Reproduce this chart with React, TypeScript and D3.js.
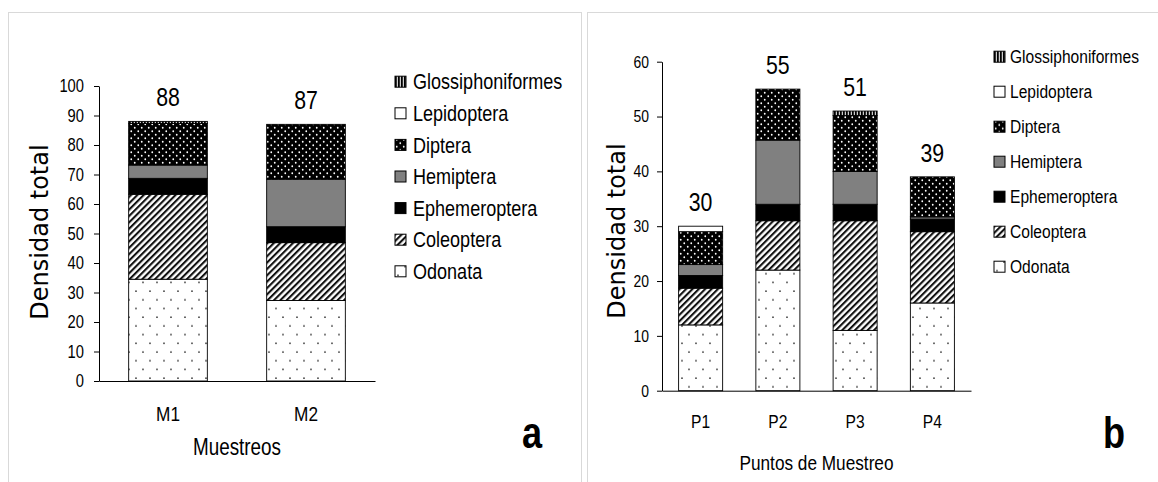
import React, { useEffect, useRef } from 'react';
import * as d3 from 'd3';

// taxa, bottom to top of each stack
const taxa = ['Odonata', 'Coleoptera', 'Ephemeroptera', 'Hemiptera', 'Diptera', 'Lepidoptera', 'Glossiphoniformes'];

// panel a
const muestreos = ['M1', 'M2'];
const odonataA = [34.5, 27.3];
const coleopteraA = [28.8, 19.6];
const ephemeropteraA = [5.4, 5.4];
const hemipteraA = [4.5, 16.1];
const dipteraA = [14.1, 18.6];
const lepidopteraA = [0, 0];
const glossA = [0.7, 0];

// panel b
const puntos = ['P1', 'P2', 'P3', 'P4'];
const odonataB = [12, 22, 11, 16];
const coleopteraB = [6.7, 9, 20, 13];
const ephemeropteraB = [2.3, 3, 3, 2.3];
const hemipteraB = [2, 11.7, 6, 0.4];
const dipteraB = [6, 9.3, 10.2, 7.3];
const lepidopteraB = [1, 0, 0, 0];
const glossB = [0, 0, 0.8, 0];

const yTicksA = d3.range(0, 101, 10);
const yTicksB = d3.range(0, 61, 10);

const narrow = "'Liberation Sans', Arial, sans-serif";
const wide = "'DejaVu Sans', Verdana, sans-serif";
const SQ = 0.82; // horizontal squeeze, the original text is condensed

const fills: Record<string, string> = {
    Odonata: 'url(#pOdo)',
    Coleoptera: 'url(#pCol)',
    Ephemeroptera: '#000',
    Hemiptera: '#808080',
    Diptera: 'url(#pDip)',
    Lepidoptera: '#fff',
    Glossiphoniformes: 'url(#pGlo)'
};

// turn x/y into a transform so the glyphs can be squeezed sideways
function squeeze(sel) {
    sel.each(function () {
        const t = d3.select(this);
        const x = +t.attr('x') || 0;
        const y = +t.attr('y') || 0;
        t.attr('x', null).attr('y', null)
            .attr('transform', 'translate(' + x + ',' + y + ') scale(' + SQ + ',1)');
    });
}

function makePatterns(defs) {
    const odo = defs.append('pattern').attr('id', 'pOdo')
        .attr('patternUnits', 'userSpaceOnUse').attr('width', 14).attr('height', 17.4);
    odo.append('rect').attr('width', 14).attr('height', 17.4).attr('fill', '#fff');
    odo.append('circle').attr('cx', 3).attr('cy', 4).attr('r', 0.85).attr('fill', '#333');
    odo.append('circle').attr('cx', 10).attr('cy', 12.7).attr('r', 0.85).attr('fill', '#333');

    const col = defs.append('pattern').attr('id', 'pCol')
        .attr('patternUnits', 'userSpaceOnUse').attr('width', 4.5).attr('height', 4.5)
        .attr('patternTransform', 'rotate(45)');
    col.append('rect').attr('width', 4.5).attr('height', 4.5).attr('fill', '#fff');
    col.append('rect').attr('width', 2.1).attr('height', 4.5).attr('fill', '#111');

    const dip = defs.append('pattern').attr('id', 'pDip')
        .attr('patternUnits', 'userSpaceOnUse').attr('width', 7).attr('height', 7);
    dip.append('rect').attr('width', 7).attr('height', 7).attr('fill', '#000');
    dip.append('circle').attr('cx', 1.75).attr('cy', 1.75).attr('r', 0.9).attr('fill', '#fff');
    dip.append('circle').attr('cx', 5.25).attr('cy', 5.25).attr('r', 0.9).attr('fill', '#fff');

    const glo = defs.append('pattern').attr('id', 'pGlo')
        .attr('patternUnits', 'userSpaceOnUse').attr('width', 3).attr('height', 3);
    glo.append('rect').attr('width', 3).attr('height', 3).attr('fill', '#000');
    glo.append('rect').attr('x', 1.8).attr('width', 1).attr('height', 3).attr('fill', '#fff');
}

function drawPanel(svg, o) {
    const rows = o.cats.map((c, i) => {
        const r: any = { cat: c };
        taxa.forEach((t, k) => { r[t] = o.series[k][i]; });
        return r;
    });
    const stacked = d3.stack().keys(taxa)(rows);

    const x = d3.scaleBand().domain(o.cats).range([o.x0, o.x1])
        .paddingInner(0.43).paddingOuter(0.215);
    const y = d3.scaleLinear().domain([0, o.yMax]).range([o.yBottom, o.yTop]);

    const g = svg.append('g');

    // bars
    stacked.forEach((layer) => {
        g.append('g').selectAll('rect')
            .data(layer.filter(d => d[1] - d[0] > 0))
            .enter().append('rect')
            .attr('x', d => x(d.data.cat))
            .attr('width', x.bandwidth())
            .attr('y', d => y(d[1]))
            .attr('height', d => y(d[0]) - y(d[1]))
            .attr('fill', fills[layer.key])
            .attr('stroke', '#000')
            .attr('stroke-width', 0.9);
    });

    // totals
    g.append('g').selectAll('text')
        .data(rows)
        .enter().append('text')
        .attr('x', d => x(d.cat) + x.bandwidth() / 2)
        .attr('y', d => y(d3.sum(taxa, t => d[t])) - 15)
        .attr('text-anchor', 'middle')
        .attr('font-family', narrow)
        .attr('font-size', 26)
        .text(d => d3.format('.0f')(d3.sum(taxa, t => d[t])))
        .call(squeeze);

    // Y Axis
    const yAxis = d3.axisLeft(y).tickValues(o.yTicks).tickSize(5).tickSizeOuter(0).tickPadding(o.yPad);
    const ya = g.append('g').attr('transform', 'translate(' + o.x0 + ',0)').call(yAxis);
    ya.selectAll('text').attr('font-family', narrow).attr('font-size', o.tickSize).attr('fill', '#000').call(squeeze);
    ya.selectAll('line,path').attr('stroke', '#000');

    // X Axis
    const xAxis = d3.axisBottom(x).tickSize(0).tickSizeOuter(0).tickPadding(o.xPad);
    const xa = g.append('g').attr('transform', 'translate(0,' + o.yBottom + ')').call(xAxis);
    xa.selectAll('text').attr('font-family', narrow).attr('font-size', o.xSize).attr('fill', '#000').call(squeeze);
    xa.selectAll('path').attr('stroke', '#000');

    g.append('text')
        .attr('transform', 'translate(' + o.yTitleX + ',' + o.yTitleY + ') rotate(-90)')
        .attr('text-anchor', 'middle')
        .attr('font-family', wide)
        .attr('font-size', 24)
        .text('Densidad total');

    g.append('text')
        .attr('x', (o.x0 + o.x1) / 2).attr('y', o.xTitleY)
        .attr('text-anchor', 'middle')
        .attr('font-family', narrow)
        .attr('font-size', o.xTitleSize)
        .text(o.xTitle)
        .call(squeeze);

    g.append('text')
        .attr('x', o.letterX).attr('y', 448)
        .attr('text-anchor', 'middle')
        .attr('font-family', narrow)
        .attr('font-weight', 'bold')
        .attr('font-size', 44)
        .text(o.letter)
        .call(squeeze);

    // legend, top item first
    const leg = g.append('g').selectAll('g')
        .data(taxa.slice().reverse())
        .enter().append('g')
        .attr('transform', (d, i) => 'translate(' + o.legX + ',' + (o.legY + i * o.legStep) + ')');
    leg.append('rect')
        .attr('x', 0).attr('y', -5.5).attr('width', 11).attr('height', 11)
        .attr('fill', d => fills[d]).attr('stroke', '#000').attr('stroke-width', 1);
    leg.append('text')
        .attr('x', o.legText).attr('dy', '0.35em')
        .attr('font-family', narrow)
        .attr('font-size', o.legSize)
        .text(d => d)
        .call(squeeze);
}

export default function App() {
    const ref = useRef(null);

    useEffect(() => {
        const svg = d3.select(ref.current);
        svg.selectAll('*').remove();
        makePatterns(svg.append('defs'));

        // panel frames
        svg.append('rect').attr('x', 8.5).attr('y', 12.5).attr('width', 573).attr('height', 480)
            .attr('fill', 'none').attr('stroke', '#d9d9d9');
        svg.append('rect').attr('x', 587.5).attr('y', 12.5).attr('width', 580).attr('height', 480)
            .attr('fill', 'none').attr('stroke', '#d9d9d9');

        drawPanel(svg, {
            cats: muestreos,
            series: [odonataA, coleopteraA, ephemeropteraA, hemipteraA, dipteraA, lepidopteraA, glossA],
            x0: 99, x1: 375, yTop: 86, yBottom: 381, yMax: 100, yTicks: yTicksA,
            yPad: 10, tickSize: 18, xPad: 25, xSize: 21,
            yTitleX: 48, yTitleY: 232, xTitle: 'Muestreos', xTitleY: 455, xTitleSize: 23,
            letter: 'a', letterX: 532,
            legX: 395, legY: 81.7, legStep: 31.6, legText: 18, legSize: 22
        });

        drawPanel(svg, {
            cats: puntos,
            series: [odonataB, coleopteraB, ephemeropteraB, hemipteraB, dipteraB, lepidopteraB, glossB],
            x0: 662, x1: 971, yTop: 61.7, yBottom: 390.7, yMax: 60, yTicks: yTicksB,
            yPad: 8, tickSize: 17, xPad: 24, xSize: 19,
            yTitleX: 625, yTitleY: 231, xTitle: 'Puntos de Muestreo', xTitleY: 470, xTitleSize: 21,
            letter: 'b', letterX: 1114,
            legX: 994, legY: 56.7, legStep: 35, legText: 16, legSize: 19
        });
    }, []);

    return (
        <svg ref={ref} width={1158} height={482}
            style={{ position: 'absolute', left: 0, top: 0, background: '#fff' }} />
    );
}
